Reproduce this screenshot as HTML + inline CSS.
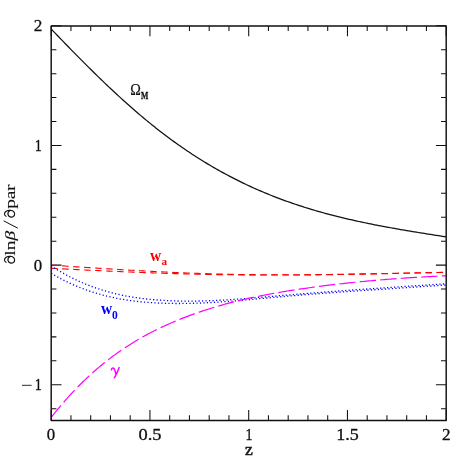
<!DOCTYPE html>
<html><head><meta charset="utf-8">
<style>
html,body{margin:0;padding:0;background:#fff;}
body{width:471px;height:471px;overflow:hidden;}
svg{display:block;will-change:transform;font-family:"Liberation Serif",serif;}
</style></head><body>
<svg width="471" height="471" viewBox="0 0 471 471">
<rect width="471" height="471" fill="#fff"/>
<g fill="none" stroke-linecap="butt">
<path d="M51.20,420.4 V410.09999999999997 M51.20,25.9 V36.2 M70.95,420.4 V415.2 M70.95,25.9 V31.099999999999998 M90.70,420.4 V415.2 M90.70,25.9 V31.099999999999998 M110.45,420.4 V415.2 M110.45,25.9 V31.099999999999998 M130.20,420.4 V415.2 M130.20,25.9 V31.099999999999998 M149.95,420.4 V410.09999999999997 M149.95,25.9 V36.2 M169.70,420.4 V415.2 M169.70,25.9 V31.099999999999998 M189.45,420.4 V415.2 M189.45,25.9 V31.099999999999998 M209.20,420.4 V415.2 M209.20,25.9 V31.099999999999998 M228.95,420.4 V415.2 M228.95,25.9 V31.099999999999998 M248.70,420.4 V410.09999999999997 M248.70,25.9 V36.2 M268.45,420.4 V415.2 M268.45,25.9 V31.099999999999998 M288.20,420.4 V415.2 M288.20,25.9 V31.099999999999998 M307.95,420.4 V415.2 M307.95,25.9 V31.099999999999998 M327.70,420.4 V415.2 M327.70,25.9 V31.099999999999998 M347.45,420.4 V410.09999999999997 M347.45,25.9 V36.2 M367.20,420.4 V415.2 M367.20,25.9 V31.099999999999998 M386.95,420.4 V415.2 M386.95,25.9 V31.099999999999998 M406.70,420.4 V415.2 M406.70,25.9 V31.099999999999998 M426.45,420.4 V415.2 M426.45,25.9 V31.099999999999998 M446.20,420.4 V410.09999999999997 M446.20,25.9 V36.2 M51.2,408.68 H56.400000000000006 M446.2,408.68 H441.0 M51.2,384.75 H61.5 M446.2,384.75 H435.9 M51.2,360.82 H56.400000000000006 M446.2,360.82 H441.0 M51.2,336.89 H56.400000000000006 M446.2,336.89 H441.0 M51.2,312.96 H56.400000000000006 M446.2,312.96 H441.0 M51.2,289.03 H56.400000000000006 M446.2,289.03 H441.0 M51.2,265.10 H61.5 M446.2,265.10 H435.9 M51.2,241.17 H56.400000000000006 M446.2,241.17 H441.0 M51.2,217.24 H56.400000000000006 M446.2,217.24 H441.0 M51.2,193.31 H56.400000000000006 M446.2,193.31 H441.0 M51.2,169.38 H56.400000000000006 M446.2,169.38 H441.0 M51.2,145.45 H61.5 M446.2,145.45 H435.9 M51.2,121.52 H56.400000000000006 M446.2,121.52 H441.0 M51.2,97.59 H56.400000000000006 M446.2,97.59 H441.0 M51.2,73.66 H56.400000000000006 M446.2,73.66 H441.0 M51.2,49.73 H56.400000000000006 M446.2,49.73 H441.0 M51.2,25.80 H61.5 M446.2,25.80 H435.9" stroke="#111" stroke-width="1.05"/>
<path d="M51.20,29.00 L53.18,31.08 L55.17,33.16 L57.15,35.23 L59.14,37.30 L61.12,39.36 L63.11,41.42 L65.09,43.47 L67.08,45.52 L69.06,47.56 L71.05,49.60 L73.03,51.63 L75.02,53.65 L77.00,55.66 L78.99,57.67 L80.97,59.68 L82.96,61.67 L84.94,63.66 L86.93,65.64 L88.91,67.61 L90.90,69.57 L92.88,71.53 L94.87,73.48 L96.85,75.42 L98.84,77.34 L100.82,79.26 L102.81,81.17 L104.79,83.08 L106.78,84.97 L108.76,86.85 L110.75,88.72 L112.73,90.58 L114.72,92.43 L116.70,94.26 L118.69,96.09 L120.67,97.91 L122.66,99.71 L124.64,101.50 L126.63,103.28 L128.61,105.05 L130.60,106.81 L132.58,108.55 L134.57,110.28 L136.55,112.00 L138.54,113.70 L140.52,115.39 L142.51,117.06 L144.49,118.73 L146.48,120.37 L148.46,122.01 L150.45,123.62 L152.43,125.23 L154.42,126.82 L156.40,128.39 L158.39,129.95 L160.37,131.49 L162.36,133.02 L164.34,134.53 L166.33,136.03 L168.31,137.51 L170.30,138.98 L172.28,140.43 L174.27,141.87 L176.25,143.29 L178.24,144.70 L180.22,146.09 L182.21,147.47 L184.19,148.83 L186.17,150.18 L188.16,151.52 L190.14,152.84 L192.13,154.15 L194.11,155.44 L196.10,156.72 L198.08,157.98 L200.07,159.23 L202.05,160.47 L204.04,161.69 L206.02,162.90 L208.01,164.10 L209.99,165.28 L211.98,166.45 L213.96,167.60 L215.95,168.74 L217.93,169.87 L219.92,170.99 L221.90,172.09 L223.89,173.17 L225.87,174.25 L227.86,175.31 L229.84,176.36 L231.83,177.40 L233.81,178.42 L235.80,179.43 L237.78,180.43 L239.77,181.41 L241.75,182.39 L243.74,183.35 L245.72,184.29 L247.71,185.23 L249.69,186.15 L251.68,187.06 L253.66,187.96 L255.65,188.85 L257.63,189.72 L259.62,190.58 L261.60,191.44 L263.59,192.28 L265.57,193.10 L267.56,193.92 L269.54,194.73 L271.53,195.52 L273.51,196.31 L275.50,197.08 L277.48,197.84 L279.47,198.59 L281.45,199.34 L283.44,200.07 L285.42,200.79 L287.41,201.50 L289.39,202.20 L291.38,202.90 L293.36,203.58 L295.35,204.25 L297.33,204.91 L299.32,205.57 L301.30,206.21 L303.29,206.85 L305.27,207.48 L307.26,208.09 L309.24,208.70 L311.23,209.30 L313.21,209.90 L315.19,210.48 L317.18,211.06 L319.16,211.63 L321.15,212.19 L323.13,212.74 L325.12,213.28 L327.10,213.82 L329.09,214.35 L331.07,214.87 L333.06,215.39 L335.04,215.90 L337.03,216.40 L339.01,216.89 L341.00,217.38 L342.98,217.86 L344.97,218.34 L346.95,218.80 L348.94,219.27 L350.92,219.72 L352.91,220.17 L354.89,220.62 L356.88,221.06 L358.86,221.49 L360.85,221.92 L362.83,222.34 L364.82,222.76 L366.80,223.17 L368.79,223.57 L370.77,223.98 L372.76,224.37 L374.74,224.77 L376.73,225.16 L378.71,225.54 L380.70,225.92 L382.68,226.30 L384.67,226.67 L386.65,227.04 L388.64,227.40 L390.62,227.76 L392.61,228.12 L394.59,228.47 L396.58,228.82 L398.56,229.17 L400.55,229.51 L402.53,229.85 L404.52,230.19 L406.50,230.53 L408.49,230.86 L410.47,231.19 L412.46,231.52 L414.44,231.85 L416.43,232.17 L418.41,232.50 L420.40,232.82 L422.38,233.14 L424.37,233.46 L426.35,233.77 L428.34,234.09 L430.32,234.40 L432.31,234.72 L434.29,235.03 L436.28,235.34 L438.26,235.65 L440.25,235.96 L442.23,236.27 L444.22,236.58 L446.20,236.89" stroke="#111" stroke-width="1.25"/>
<path d="M51.20,265.11 L53.18,265.25 L55.17,265.38 L57.15,265.52 L59.14,265.65 L61.12,265.79 L63.11,265.92 L65.09,266.06 L67.08,266.19 L69.06,266.32 L71.05,266.46 L73.03,266.59 L75.02,266.72 L77.00,266.85 L78.99,266.99 L80.97,267.12 L82.96,267.25 L84.94,267.38 L86.93,267.51 L88.91,267.64 L90.90,267.77 L92.88,267.89 L94.87,268.02 L96.85,268.15 L98.84,268.27 L100.82,268.40 L102.81,268.53 L104.79,268.65 L106.78,268.77 L108.76,268.90 L110.75,269.02 L112.73,269.14 L114.72,269.26 L116.70,269.38 L118.69,269.50 L120.67,269.62 L122.66,269.74 L124.64,269.85 L126.63,269.97 L128.61,270.08 L130.60,270.20 L132.58,270.31 L134.57,270.42 L136.55,270.53 L138.54,270.64 L140.52,270.75 L142.51,270.86 L144.49,270.97 L146.48,271.07 L148.46,271.18 L150.45,271.28 L152.43,271.38 L154.42,271.48 L156.40,271.58 L158.39,271.68 L160.37,271.78 L162.36,271.88 L164.34,271.97 L166.33,272.07 L168.31,272.16 L170.30,272.25 L172.28,272.34 L174.27,272.43 L176.25,272.52 L178.24,272.60 L180.22,272.69 L182.21,272.77 L184.19,272.85 L186.17,272.93 L188.16,273.01 L190.14,273.09 L192.13,273.16 L194.11,273.24 L196.10,273.31 L198.08,273.38 L200.07,273.45 L202.05,273.52 L204.04,273.59 L206.02,273.65 L208.01,273.71 L209.99,273.77 L211.98,273.83 L213.96,273.89 L215.95,273.95 L217.93,274.00 L219.92,274.05 L221.90,274.10 L223.89,274.15 L225.87,274.20 L227.86,274.24 L229.84,274.29 L231.83,274.33 L233.81,274.37 L235.80,274.41 L237.78,274.44 L239.77,274.47 L241.75,274.51 L243.74,274.54 L245.72,274.56 L247.71,274.59 L249.69,274.62 L251.68,274.64 L253.66,274.66 L255.65,274.68 L257.63,274.70 L259.62,274.72 L261.60,274.73 L263.59,274.75 L265.57,274.76 L267.56,274.77 L269.54,274.78 L271.53,274.78 L273.51,274.79 L275.50,274.80 L277.48,274.80 L279.47,274.80 L281.45,274.80 L283.44,274.80 L285.42,274.80 L287.41,274.79 L289.39,274.79 L291.38,274.78 L293.36,274.78 L295.35,274.77 L297.33,274.76 L299.32,274.75 L301.30,274.74 L303.29,274.72 L305.27,274.71 L307.26,274.69 L309.24,274.68 L311.23,274.66 L313.21,274.64 L315.19,274.62 L317.18,274.60 L319.16,274.58 L321.15,274.56 L323.13,274.54 L325.12,274.51 L327.10,274.49 L329.09,274.46 L331.07,274.44 L333.06,274.41 L335.04,274.38 L337.03,274.35 L339.01,274.32 L341.00,274.29 L342.98,274.26 L344.97,274.23 L346.95,274.20 L348.94,274.17 L350.92,274.13 L352.91,274.10 L354.89,274.07 L356.88,274.03 L358.86,274.00 L360.85,273.96 L362.83,273.92 L364.82,273.89 L366.80,273.85 L368.79,273.81 L370.77,273.77 L372.76,273.74 L374.74,273.70 L376.73,273.66 L378.71,273.62 L380.70,273.58 L382.68,273.54 L384.67,273.50 L386.65,273.46 L388.64,273.42 L390.62,273.38 L392.61,273.34 L394.59,273.30 L396.58,273.26 L398.56,273.22 L400.55,273.18 L402.53,273.14 L404.52,273.10 L406.50,273.06 L408.49,273.02 L410.47,272.98 L412.46,272.94 L414.44,272.90 L416.43,272.86 L418.41,272.82 L420.40,272.78 L422.38,272.74 L424.37,272.70 L426.35,272.66 L428.34,272.62 L430.32,272.58 L432.31,272.54 L434.29,272.50 L436.28,272.47 L438.26,272.43 L440.25,272.39 L442.23,272.36 L444.22,272.32 L446.20,272.29" stroke="#f00" stroke-width="1.1" stroke-dasharray="6.5 4.515"/>
<path d="M51.20,268.26 L53.18,268.37 L55.17,268.47 L57.15,268.58 L59.14,268.68 L61.12,268.79 L63.11,268.89 L65.09,268.99 L67.08,269.09 L69.06,269.20 L71.05,269.30 L73.03,269.40 L75.02,269.50 L77.00,269.60 L78.99,269.70 L80.97,269.80 L82.96,269.89 L84.94,269.99 L86.93,270.09 L88.91,270.19 L90.90,270.28 L92.88,270.38 L94.87,270.47 L96.85,270.56 L98.84,270.66 L100.82,270.75 L102.81,270.84 L104.79,270.93 L106.78,271.02 L108.76,271.11 L110.75,271.20 L112.73,271.29 L114.72,271.37 L116.70,271.46 L118.69,271.54 L120.67,271.63 L122.66,271.71 L124.64,271.80 L126.63,271.88 L128.61,271.96 L130.60,272.04 L132.58,272.12 L134.57,272.20 L136.55,272.28 L138.54,272.35 L140.52,272.43 L142.51,272.50 L144.49,272.58 L146.48,272.65 L148.46,272.72 L150.45,272.80 L152.43,272.87 L154.42,272.94 L156.40,273.01 L158.39,273.07 L160.37,273.14 L162.36,273.21 L164.34,273.27 L166.33,273.33 L168.31,273.40 L170.30,273.46 L172.28,273.52 L174.27,273.58 L176.25,273.64 L178.24,273.69 L180.22,273.75 L182.21,273.81 L184.19,273.86 L186.17,273.91 L188.16,273.96 L190.14,274.01 L192.13,274.06 L194.11,274.11 L196.10,274.16 L198.08,274.21 L200.07,274.25 L202.05,274.29 L204.04,274.34 L206.02,274.38 L208.01,274.42 L209.99,274.46 L211.98,274.49 L213.96,274.53 L215.95,274.57 L217.93,274.60 L219.92,274.63 L221.90,274.66 L223.89,274.69 L225.87,274.72 L227.86,274.75 L229.84,274.77 L231.83,274.80 L233.81,274.82 L235.80,274.84 L237.78,274.87 L239.77,274.88 L241.75,274.90 L243.74,274.92 L245.72,274.93 L247.71,274.95 L249.69,274.96 L251.68,274.97 L253.66,274.98 L255.65,274.99 L257.63,275.00 L259.62,275.01 L261.60,275.02 L263.59,275.02 L265.57,275.02 L267.56,275.03 L269.54,275.03 L271.53,275.03 L273.51,275.03 L275.50,275.03 L277.48,275.02 L279.47,275.02 L281.45,275.01 L283.44,275.01 L285.42,275.00 L287.41,274.99 L289.39,274.99 L291.38,274.98 L293.36,274.97 L295.35,274.95 L297.33,274.94 L299.32,274.93 L301.30,274.91 L303.29,274.90 L305.27,274.88 L307.26,274.87 L309.24,274.85 L311.23,274.83 L313.21,274.81 L315.19,274.79 L317.18,274.77 L319.16,274.75 L321.15,274.72 L323.13,274.70 L325.12,274.68 L327.10,274.65 L329.09,274.63 L331.07,274.60 L333.06,274.58 L335.04,274.55 L337.03,274.52 L339.01,274.49 L341.00,274.46 L342.98,274.43 L344.97,274.40 L346.95,274.37 L348.94,274.34 L350.92,274.31 L352.91,274.27 L354.89,274.24 L356.88,274.21 L358.86,274.17 L360.85,274.14 L362.83,274.10 L364.82,274.07 L366.80,274.03 L368.79,273.99 L370.77,273.96 L372.76,273.92 L374.74,273.88 L376.73,273.84 L378.71,273.80 L380.70,273.76 L382.68,273.73 L384.67,273.69 L386.65,273.65 L388.64,273.60 L390.62,273.56 L392.61,273.52 L394.59,273.48 L396.58,273.44 L398.56,273.40 L400.55,273.36 L402.53,273.31 L404.52,273.27 L406.50,273.23 L408.49,273.19 L410.47,273.14 L412.46,273.10 L414.44,273.06 L416.43,273.01 L418.41,272.97 L420.40,272.93 L422.38,272.88 L424.37,272.84 L426.35,272.80 L428.34,272.75 L430.32,272.71 L432.31,272.66 L434.29,272.62 L436.28,272.58 L438.26,272.53 L440.25,272.49 L442.23,272.44 L444.22,272.40 L446.20,272.36" stroke="#f00" stroke-width="1.1" stroke-dasharray="6.5 4.515"/>
<path d="M51.20,265.79 L53.18,267.09 L55.17,268.36 L57.15,269.59 L59.14,270.80 L61.12,271.98 L63.11,273.12 L65.09,274.24 L67.08,275.32 L69.06,276.38 L71.05,277.41 L73.03,278.41 L75.02,279.38 L77.00,280.32 L78.99,281.24 L80.97,282.13 L82.96,282.99 L84.94,283.83 L86.93,284.64 L88.91,285.42 L90.90,286.19 L92.88,286.92 L94.87,287.63 L96.85,288.32 L98.84,288.99 L100.82,289.63 L102.81,290.25 L104.79,290.85 L106.78,291.42 L108.76,291.98 L110.75,292.51 L112.73,293.02 L114.72,293.52 L116.70,293.99 L118.69,294.44 L120.67,294.88 L122.66,295.30 L124.64,295.69 L126.63,296.07 L128.61,296.44 L130.60,296.78 L132.58,297.11 L134.57,297.43 L136.55,297.72 L138.54,298.00 L140.52,298.27 L142.51,298.52 L144.49,298.76 L146.48,298.99 L148.46,299.20 L150.45,299.40 L152.43,299.58 L154.42,299.75 L156.40,299.92 L158.39,300.07 L160.37,300.21 L162.36,300.33 L164.34,300.45 L166.33,300.56 L168.31,300.66 L170.30,300.74 L172.28,300.82 L174.27,300.89 L176.25,300.95 L178.24,301.00 L180.22,301.04 L182.21,301.07 L184.19,301.09 L186.17,301.11 L188.16,301.12 L190.14,301.11 L192.13,301.10 L194.11,301.09 L196.10,301.06 L198.08,301.03 L200.07,300.99 L202.05,300.95 L204.04,300.89 L206.02,300.83 L208.01,300.77 L209.99,300.70 L211.98,300.62 L213.96,300.54 L215.95,300.45 L217.93,300.35 L219.92,300.25 L221.90,300.15 L223.89,300.04 L225.87,299.92 L227.86,299.80 L229.84,299.68 L231.83,299.55 L233.81,299.42 L235.80,299.28 L237.78,299.14 L239.77,299.00 L241.75,298.86 L243.74,298.71 L245.72,298.56 L247.71,298.40 L249.69,298.25 L251.68,298.09 L253.66,297.93 L255.65,297.76 L257.63,297.60 L259.62,297.43 L261.60,297.26 L263.59,297.09 L265.57,296.92 L267.56,296.75 L269.54,296.58 L271.53,296.41 L273.51,296.24 L275.50,296.07 L277.48,295.90 L279.47,295.72 L281.45,295.55 L283.44,295.38 L285.42,295.21 L287.41,295.05 L289.39,294.88 L291.38,294.71 L293.36,294.55 L295.35,294.38 L297.33,294.22 L299.32,294.06 L301.30,293.89 L303.29,293.73 L305.27,293.57 L307.26,293.42 L309.24,293.26 L311.23,293.10 L313.21,292.94 L315.19,292.79 L317.18,292.63 L319.16,292.48 L321.15,292.33 L323.13,292.17 L325.12,292.02 L327.10,291.87 L329.09,291.72 L331.07,291.57 L333.06,291.43 L335.04,291.28 L337.03,291.13 L339.01,290.98 L341.00,290.84 L342.98,290.69 L344.97,290.55 L346.95,290.41 L348.94,290.26 L350.92,290.12 L352.91,289.98 L354.89,289.84 L356.88,289.70 L358.86,289.56 L360.85,289.42 L362.83,289.28 L364.82,289.14 L366.80,289.00 L368.79,288.86 L370.77,288.73 L372.76,288.59 L374.74,288.46 L376.73,288.32 L378.71,288.18 L380.70,288.05 L382.68,287.92 L384.67,287.78 L386.65,287.65 L388.64,287.52 L390.62,287.38 L392.61,287.25 L394.59,287.12 L396.58,286.99 L398.56,286.85 L400.55,286.72 L402.53,286.59 L404.52,286.46 L406.50,286.33 L408.49,286.20 L410.47,286.07 L412.46,285.94 L414.44,285.81 L416.43,285.68 L418.41,285.55 L420.40,285.43 L422.38,285.30 L424.37,285.17 L426.35,285.04 L428.34,284.91 L430.32,284.78 L432.31,284.66 L434.29,284.53 L436.28,284.40 L438.26,284.27 L440.25,284.14 L442.23,284.02 L444.22,283.89 L446.20,283.76" stroke="#00f" stroke-width="1.3" stroke-dasharray="1.2 2.3"/>
<path d="M51.20,273.25 L53.18,274.43 L55.17,275.58 L57.15,276.70 L59.14,277.79 L61.12,278.85 L63.11,279.89 L65.09,280.89 L67.08,281.87 L69.06,282.81 L71.05,283.73 L73.03,284.63 L75.02,285.50 L77.00,286.34 L78.99,287.15 L80.97,287.94 L82.96,288.71 L84.94,289.45 L86.93,290.17 L88.91,290.86 L90.90,291.53 L92.88,292.18 L94.87,292.80 L96.85,293.40 L98.84,293.98 L100.82,294.54 L102.81,295.08 L104.79,295.59 L106.78,296.09 L108.76,296.56 L110.75,297.02 L112.73,297.46 L114.72,297.87 L116.70,298.27 L118.69,298.65 L120.67,299.02 L122.66,299.36 L124.64,299.69 L126.63,300.00 L128.61,300.30 L130.60,300.58 L132.58,300.84 L134.57,301.09 L136.55,301.33 L138.54,301.55 L140.52,301.75 L142.51,301.94 L144.49,302.12 L146.48,302.29 L148.46,302.44 L150.45,302.59 L152.43,302.72 L154.42,302.83 L156.40,302.94 L158.39,303.04 L160.37,303.13 L162.36,303.20 L164.34,303.27 L166.33,303.33 L168.31,303.38 L170.30,303.42 L172.28,303.45 L174.27,303.47 L176.25,303.48 L178.24,303.49 L180.22,303.48 L182.21,303.47 L184.19,303.45 L186.17,303.42 L188.16,303.39 L190.14,303.35 L192.13,303.30 L194.11,303.24 L196.10,303.18 L198.08,303.11 L200.07,303.04 L202.05,302.95 L204.04,302.87 L206.02,302.77 L208.01,302.67 L209.99,302.57 L211.98,302.46 L213.96,302.34 L215.95,302.22 L217.93,302.10 L219.92,301.97 L221.90,301.84 L223.89,301.70 L225.87,301.56 L227.86,301.41 L229.84,301.26 L231.83,301.11 L233.81,300.95 L235.80,300.79 L237.78,300.63 L239.77,300.47 L241.75,300.30 L243.74,300.13 L245.72,299.96 L247.71,299.79 L249.69,299.61 L251.68,299.44 L253.66,299.26 L255.65,299.08 L257.63,298.90 L259.62,298.72 L261.60,298.54 L263.59,298.35 L265.57,298.17 L267.56,297.99 L269.54,297.81 L271.53,297.62 L273.51,297.44 L275.50,297.26 L277.48,297.08 L279.47,296.90 L281.45,296.72 L283.44,296.54 L285.42,296.37 L287.41,296.20 L289.39,296.02 L291.38,295.85 L293.36,295.68 L295.35,295.52 L297.33,295.35 L299.32,295.19 L301.30,295.02 L303.29,294.86 L305.27,294.70 L307.26,294.54 L309.24,294.39 L311.23,294.23 L313.21,294.08 L315.19,293.92 L317.18,293.77 L319.16,293.62 L321.15,293.47 L323.13,293.32 L325.12,293.17 L327.10,293.03 L329.09,292.88 L331.07,292.74 L333.06,292.59 L335.04,292.45 L337.03,292.31 L339.01,292.17 L341.00,292.03 L342.98,291.89 L344.97,291.75 L346.95,291.61 L348.94,291.47 L350.92,291.34 L352.91,291.20 L354.89,291.07 L356.88,290.93 L358.86,290.80 L360.85,290.67 L362.83,290.53 L364.82,290.40 L366.80,290.27 L368.79,290.14 L370.77,290.00 L372.76,289.87 L374.74,289.74 L376.73,289.61 L378.71,289.48 L380.70,289.35 L382.68,289.22 L384.67,289.09 L386.65,288.96 L388.64,288.83 L390.62,288.70 L392.61,288.57 L394.59,288.44 L396.58,288.31 L398.56,288.18 L400.55,288.05 L402.53,287.92 L404.52,287.79 L406.50,287.66 L408.49,287.53 L410.47,287.40 L412.46,287.27 L414.44,287.13 L416.43,287.00 L418.41,286.87 L420.40,286.74 L422.38,286.60 L424.37,286.47 L426.35,286.33 L428.34,286.20 L430.32,286.06 L432.31,285.93 L434.29,285.79 L436.28,285.65 L438.26,285.51 L440.25,285.37 L442.23,285.23 L444.22,285.09 L446.20,284.95" stroke="#00f" stroke-width="1.3" stroke-dasharray="1.2 2.3"/>
<path d="M51.20,417.42 L53.18,414.90 L55.17,412.43 L57.15,409.99 L59.14,407.59 L61.12,405.24 L63.11,402.92 L65.09,400.64 L67.08,398.40 L69.06,396.20 L71.05,394.03 L73.03,391.90 L75.02,389.81 L77.00,387.75 L78.99,385.73 L80.97,383.74 L82.96,381.79 L84.94,379.87 L86.93,377.99 L88.91,376.14 L90.90,374.32 L92.88,372.53 L94.87,370.78 L96.85,369.05 L98.84,367.36 L100.82,365.70 L102.81,364.07 L104.79,362.47 L106.78,360.89 L108.76,359.35 L110.75,357.83 L112.73,356.35 L114.72,354.89 L116.70,353.45 L118.69,352.04 L120.67,350.66 L122.66,349.31 L124.64,347.98 L126.63,346.67 L128.61,345.39 L130.60,344.14 L132.58,342.90 L134.57,341.69 L136.55,340.50 L138.54,339.34 L140.52,338.19 L142.51,337.07 L144.49,335.97 L146.48,334.88 L148.46,333.82 L150.45,332.78 L152.43,331.75 L154.42,330.75 L156.40,329.76 L158.39,328.79 L160.37,327.84 L162.36,326.90 L164.34,325.98 L166.33,325.08 L168.31,324.19 L170.30,323.32 L172.28,322.46 L174.27,321.62 L176.25,320.78 L178.24,319.97 L180.22,319.16 L182.21,318.37 L184.19,317.59 L186.17,316.83 L188.16,316.07 L190.14,315.33 L192.13,314.60 L194.11,313.89 L196.10,313.18 L198.08,312.49 L200.07,311.81 L202.05,311.14 L204.04,310.48 L206.02,309.84 L208.01,309.20 L209.99,308.58 L211.98,307.96 L213.96,307.36 L215.95,306.77 L217.93,306.18 L219.92,305.61 L221.90,305.05 L223.89,304.50 L225.87,303.95 L227.86,303.42 L229.84,302.89 L231.83,302.38 L233.81,301.87 L235.80,301.37 L237.78,300.89 L239.77,300.41 L241.75,299.93 L243.74,299.47 L245.72,299.01 L247.71,298.57 L249.69,298.13 L251.68,297.69 L253.66,297.27 L255.65,296.85 L257.63,296.44 L259.62,296.04 L261.60,295.64 L263.59,295.25 L265.57,294.87 L267.56,294.49 L269.54,294.12 L271.53,293.75 L273.51,293.39 L275.50,293.04 L277.48,292.69 L279.47,292.35 L281.45,292.01 L283.44,291.68 L285.42,291.35 L287.41,291.03 L289.39,290.71 L291.38,290.40 L293.36,290.09 L295.35,289.79 L297.33,289.49 L299.32,289.19 L301.30,288.90 L303.29,288.61 L305.27,288.32 L307.26,288.04 L309.24,287.76 L311.23,287.48 L313.21,287.21 L315.19,286.94 L317.18,286.68 L319.16,286.42 L321.15,286.16 L323.13,285.90 L325.12,285.65 L327.10,285.41 L329.09,285.16 L331.07,284.92 L333.06,284.68 L335.04,284.45 L337.03,284.21 L339.01,283.99 L341.00,283.76 L342.98,283.54 L344.97,283.32 L346.95,283.10 L348.94,282.89 L350.92,282.68 L352.91,282.48 L354.89,282.27 L356.88,282.07 L358.86,281.87 L360.85,281.68 L362.83,281.49 L364.82,281.30 L366.80,281.11 L368.79,280.93 L370.77,280.75 L372.76,280.57 L374.74,280.40 L376.73,280.23 L378.71,280.06 L380.70,279.89 L382.68,279.73 L384.67,279.57 L386.65,279.41 L388.64,279.25 L390.62,279.10 L392.61,278.95 L394.59,278.80 L396.58,278.66 L398.56,278.51 L400.55,278.37 L402.53,278.24 L404.52,278.10 L406.50,277.97 L408.49,277.84 L410.47,277.71 L412.46,277.58 L414.44,277.46 L416.43,277.34 L418.41,277.22 L420.40,277.10 L422.38,276.99 L424.37,276.87 L426.35,276.76 L428.34,276.66 L430.32,276.55 L432.31,276.45 L434.29,276.35 L436.28,276.25 L438.26,276.15 L440.25,276.05 L442.23,275.96 L444.22,275.87 L446.20,275.78" stroke="#f0f" stroke-width="1.2" stroke-dasharray="16.3 4.24" stroke-dashoffset="0.9"/>
<rect x="51.2" y="25.9" width="395.0" height="394.5" stroke="#111" stroke-width="1.45" stroke-linejoin="round"/>
</g>
<g fill="#111" font-size="16px" stroke="#111" stroke-width="0.3" stroke-linejoin="round">
<text x="38" y="31" text-anchor="middle" textLength="8.6" lengthAdjust="spacingAndGlyphs">2</text>
<text x="38.2" y="151" text-anchor="middle" textLength="7" lengthAdjust="spacingAndGlyphs">1</text>
<text x="38" y="270.5" text-anchor="middle" textLength="8.4" lengthAdjust="spacingAndGlyphs">0</text>
<text x="38.2" y="390.4" text-anchor="middle" textLength="7" lengthAdjust="spacingAndGlyphs">1</text>
<path d="M22,385.3 H31.6" stroke="#111" stroke-width="0.9"/>
<text x="51" y="440" text-anchor="middle" textLength="8.4" lengthAdjust="spacingAndGlyphs">0</text>
<text x="150" y="440" text-anchor="middle" textLength="23" lengthAdjust="spacingAndGlyphs">0.5</text>
<text x="249" y="440" text-anchor="middle" textLength="7" lengthAdjust="spacingAndGlyphs">1</text>
<text x="347.6" y="440" text-anchor="middle" textLength="22.5" lengthAdjust="spacingAndGlyphs">1.5</text>
<text x="446.2" y="440" text-anchor="middle" textLength="8.6" lengthAdjust="spacingAndGlyphs">2</text>
<text x="249" y="455" text-anchor="middle" font-size="17.5px" stroke-width="0.55">z</text>
<g transform="translate(14.5,263.7) rotate(-90) scale(1.25,1)" font-size="15.6px" stroke-width="0.12"><text x="6.4 10.7 44.0 51.6 58.2">lnpar</text><text x="18.6" font-style="italic">β</text></g>
<g transform="translate(14.5,263.7) rotate(-90)" fill="none" stroke="#111" stroke-width="1.15" stroke-linecap="round">
<path id="pd" d="M1.4,-8.4 C2.2,-10.2 4.6,-10.6 6,-9 C7.6,-7.2 7.9,-3.4 6.8,-1.6 C5.6,0.5 2.4,0.7 1.2,-1.1 C0,-3.1 0.8,-5.9 3.2,-6.5 C5,-6.9 6.6,-5.9 7.3,-4.4"/>
<path transform="translate(46,0)" d="M1.4,-8.4 C2.2,-10.2 4.6,-10.6 6,-9 C7.6,-7.2 7.9,-3.4 6.8,-1.6 C5.6,0.5 2.4,0.7 1.2,-1.1 C0,-3.1 0.8,-5.9 3.2,-6.5 C5,-6.9 6.6,-5.9 7.3,-4.4"/>
</g>
<path d="M17.8,228.2 L3.6,220.8" stroke="#111" stroke-width="1" fill="none"/>
<text x="130.2" y="94.6" font-size="16.2px" stroke-width="0.2" textLength="10.6" lengthAdjust="spacingAndGlyphs">Ω</text>
<text x="140.9" y="99" font-size="9.8px" font-weight="bold" textLength="7.4" lengthAdjust="spacingAndGlyphs">M</text>
</g>
<g font-weight="bold">
<text x="150" y="260.5" font-size="15.8px" fill="#f00" textLength="11.2" lengthAdjust="spacingAndGlyphs">w</text>
<text x="161.4" y="265" font-size="10.6px" fill="#f00" textLength="5.6" lengthAdjust="spacingAndGlyphs">a</text>
<text x="101" y="314" font-size="15.8px" fill="#00f" textLength="11.2" lengthAdjust="spacingAndGlyphs">w</text>
<text x="112" y="319.1" font-size="11.5px" fill="#00f">0</text>
<path d="M111.3,369.8 C111.7,368 113.1,367.5 114,368.5 C115,369.7 115.6,372 115.9,374.4 M119.2,367.6 C118.2,370.4 116.6,373.6 115.6,375.4 C115,376.5 114.6,377.2 114.4,377.8" fill="none" stroke="#f0f" stroke-width="1.5" stroke-linecap="round" stroke-linejoin="round"/>
</g>
</svg>
</body></html>
